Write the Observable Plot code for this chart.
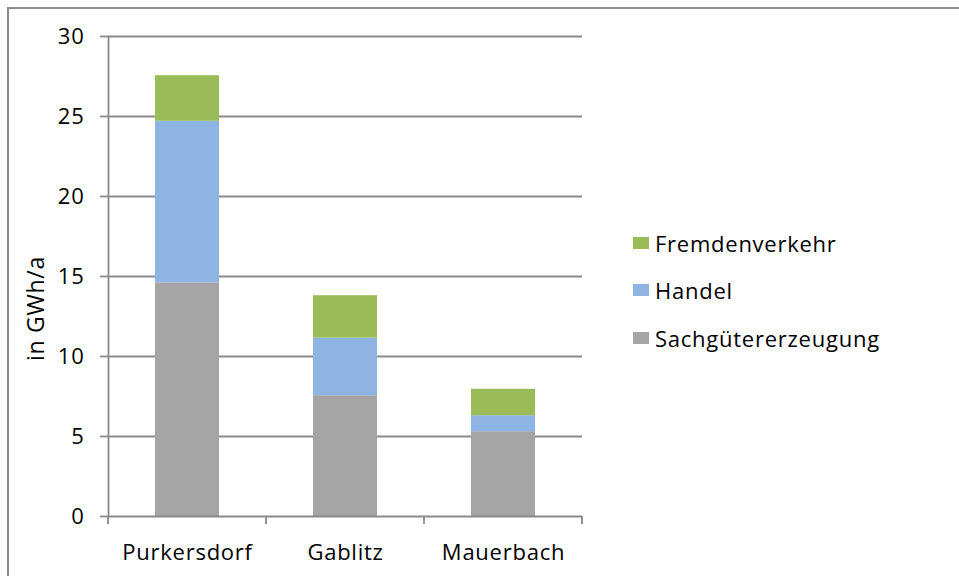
<!DOCTYPE html>
<html>
<head>
<meta charset="utf-8">
<script src="https://cdn.jsdelivr.net/npm/d3@7"></script>
<script src="https://cdn.jsdelivr.net/npm/@observablehq/plot@0.6"></script>
<style>
  html, body { margin: 0; padding: 0; background: #fff; }
  #wrap { position: relative; width: 959px; height: 576px; overflow: hidden; font-family: "Open Sans", sans-serif; }
  #border { position: absolute; left: 7px; top: 7px; width: 1000px; height: 1000px; border-left: 2px solid #8c8c8c; border-top: 2px solid #8c8c8c; box-sizing: border-box; }
  #chart { position: absolute; left: 0; top: 0; }
  #legend { position: absolute; left: 633px; top: 219px; font-size: 22px; letter-spacing: 0.75px; color: #000; }
  .item { display: flex; align-items: center; height: 47.5px; }
  .sw { width: 16px; height: 12px; margin-right: 6px; }
  #chart svg text { letter-spacing: 0.75px; }
</style>
</head>
<body>
<div id="wrap">
  <div id="border"></div>
  <div id="chart"></div>
  <div id="legend"></div>
</div>
<script>
const categories = ["Purkersdorf", "Gablitz", "Mauerbach"];
const seriesNames = ["Sachgütererzeugung", "Handel", "Fremdenverkehr"];
const sachgueter = [14.6, 7.55, 5.3];
const handel = [10.1, 3.6, 1.0];
const fremdenverkehr = [2.85, 2.65, 1.65];
const colors = ["#A5A5A5", "#8EB4E3", "#9BBB59"];
const yTicks = [0, 5, 10, 15, 20, 25, 30];
const yLabel = "in GWh/a";
const legendOrder = ["Fremdenverkehr", "Handel", "Sachgütererzeugung"];

const seriesValues = [sachgueter, handel, fremdenverkehr];
const data = [];
seriesNames.forEach((s, i) => categories.forEach((c, j) => data.push({cat: c, series: s, value: seriesValues[i][j]})));

const gridColor = "#8a8a8a";

// category boundary ticks on the x axis (Excel style)
function boundaryTicks(index, scales, values, dimensions) {
  const x = scales.x;
  const step = x.step();
  const bw = x.bandwidth();
  const g = d3.create("svg:g");
  const y0 = dimensions.height - dimensions.marginBottom;
  const bounds = [];
  categories.forEach((c, i) => {
    const center = x(c) + bw / 2;
    if (i === 0) bounds.push(center - step / 2);
    bounds.push(center + step / 2);
  });
  bounds.forEach(b => {
    g.append("line").attr("x1", b).attr("x2", b).attr("y1", y0).attr("y2", y0 + 8)
      .attr("stroke", gridColor).attr("stroke-width", 1.8);
  });
  return g.node();
}

const plot = Plot.plot({
  width: 959,
  height: 576,
  marginLeft: 108,
  marginRight: 377,
  marginTop: 36,
  marginBottom: 60,
  style: {fontFamily: "'Open Sans', sans-serif", fontSize: "22px", color: "#000", background: "transparent"},
  x: {domain: categories, paddingInner: 0.595, paddingOuter: 0.2975, label: null},
  y: {domain: [0, 30], ticks: yTicks, label: null},
  color: {domain: seriesNames, range: colors},
  marks: [
    Plot.gridY(yTicks.filter(t => t > 0), {stroke: gridColor, strokeOpacity: 1, strokeWidth: 1.8}),
    Plot.barY(data, {x: "cat", y: "value", fill: "series", order: seriesNames}),
    Plot.axisY({ticks: yTicks, tickSize: 8, tickPadding: 16, stroke: gridColor, strokeWidth: 1.8, label: null, fontSize: 22}),
    Plot.axisX({tickSize: 0, tickPadding: 28, label: null, fontSize: 22}),
    Plot.frame({anchor: "left", stroke: gridColor, strokeWidth: 1.8}),
    Plot.ruleY([0], {stroke: gridColor, strokeWidth: 1.8}),
    boundaryTicks,
    Plot.text([yLabel], {frameAnchor: "left", rotate: -90, dx: -72, dy: 32, fontSize: 23, fill: "#000", textAnchor: "middle"})
  ]
});
document.getElementById("chart").appendChild(plot);

const legend = document.getElementById("legend");
legendOrder.forEach(name => {
  const item = document.createElement("div");
  item.className = "item";
  const sw = document.createElement("div");
  sw.className = "sw";
  sw.style.background = colors[seriesNames.indexOf(name)];
  const t = document.createElement("span");
  t.textContent = name;
  item.appendChild(sw);
  item.appendChild(t);
  legend.appendChild(item);
});
</script>
</body>
</html>
